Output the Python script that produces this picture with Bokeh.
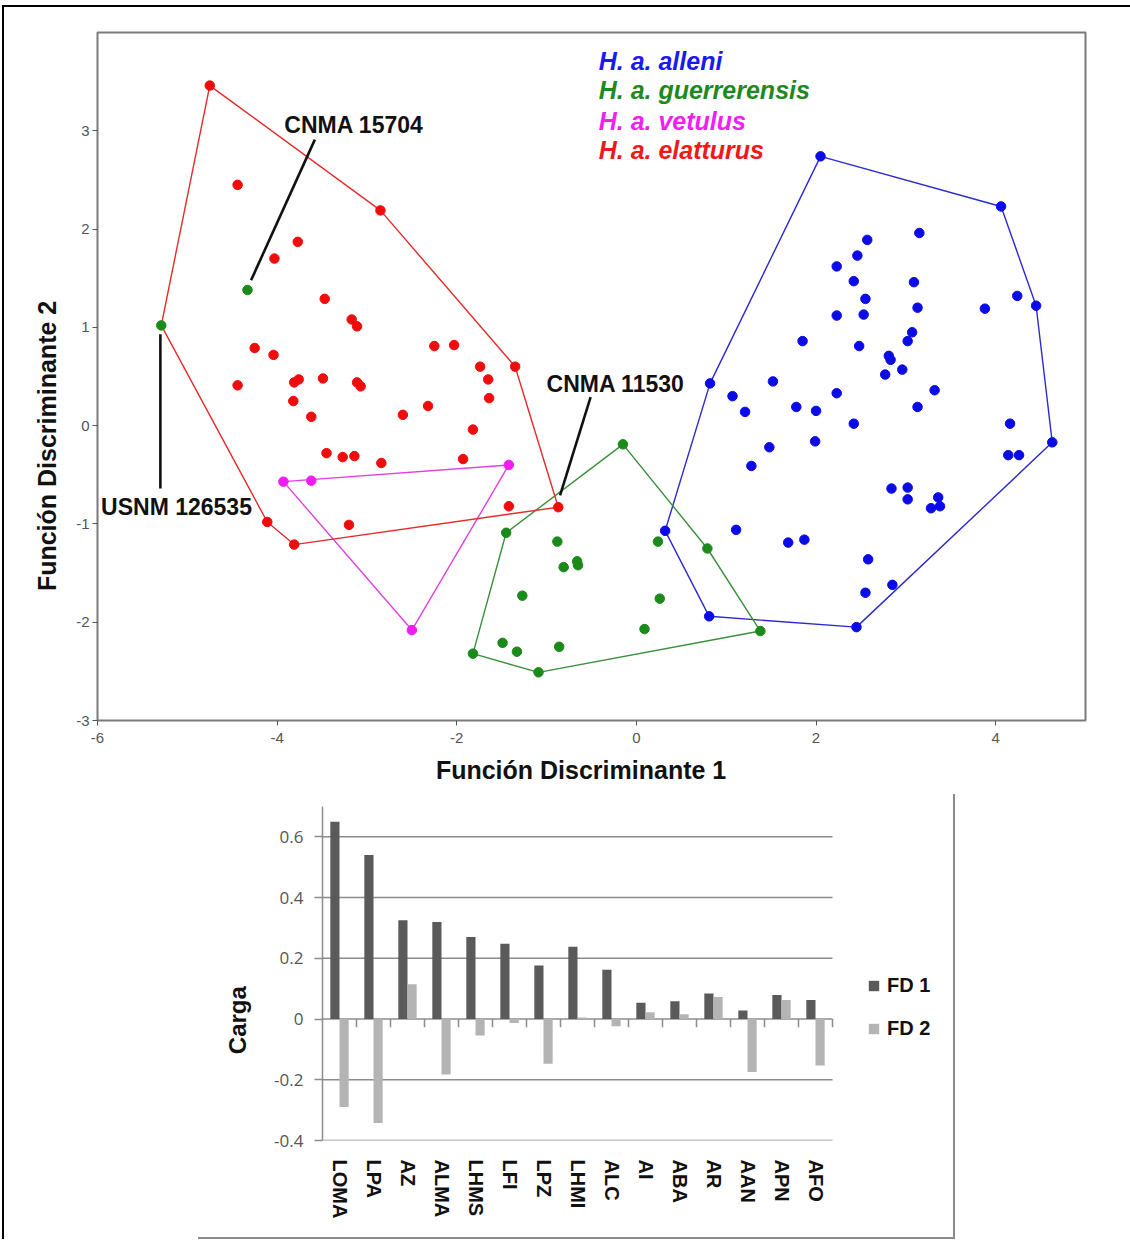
from bokeh.plotting import figure
from bokeh.models import (Range1d, FixedTicker, Label, Legend, LegendItem,
                          Spacer, ColumnDataSource)
from bokeh.layouts import column, row
from bokeh.embed import file_html
from bokeh.resources import INLINE

# ---------------- scatter data (discriminant scores) ----------------
alleni_x = [2.05, 4.06, 3.15, 2.57, 2.46, 2.23, 2.42, 3.09, 4.24, 4.45, 2.55, 3.13, 3.88,
            2.23, 2.53, 1.85, 2.48, 3.07, 3.02, 2.81, 2.83, 2.96, 2.77, 0.82, 1.52, 2.23,
            3.32, 1.07, 1.21, 1.78, 2.00, 3.13, 2.42, 4.16, 1.99, 1.48, 4.63, 4.14, 4.26,
            1.28, 2.84, 3.02, 3.02, 3.36, 3.28, 3.38, 0.32, 1.11, 1.69, 1.87, 2.58, 2.85,
            2.55, 0.81, 2.45]
alleni_y = [2.74, 2.23, 1.96, 1.89, 1.73, 1.62, 1.47, 1.46, 1.32, 1.22, 1.29, 1.20, 1.19,
            1.12, 1.13, 0.86, 0.81, 0.95, 0.86, 0.71, 0.67, 0.57, 0.52, 0.43, 0.45, 0.33,
            0.36, 0.30, 0.14, 0.19, 0.15, 0.19, 0.02, 0.02, -0.16, -0.22, -0.17, -0.30, -0.30,
            -0.41, -0.64, -0.63, -0.75, -0.73, -0.84, -0.82, -1.07, -1.06, -1.19, -1.16, -1.36,
            -1.62, -1.70, -1.94, -2.05]

guerrerensis_x = [-0.15, -1.45, -0.88, 0.24, 0.79, -0.81, -0.66, -0.65, -1.27, 0.26, 0.09,
                  1.38, -1.49, -1.33, -0.86, -1.82, -1.09]
guerrerensis_y = [-0.19, -1.09, -1.18, -1.18, -1.25, -1.44, -1.38, -1.42, -1.73, -1.76, -2.07,
                  -2.09, -2.21, -2.30, -2.25, -2.32, -2.51]

# guerrerensis specimens lying inside the elatturus polygon
specimen_names = ["CNMA 15704", "USNM 126535"]
specimen_x = [-4.33, -5.29]
specimen_y = [1.38, 1.02]

vetulus_x = [-3.93, -3.62, -1.42, -2.50]
vetulus_y = [-0.57, -0.56, -0.40, -2.08]

elatturus_x = [-4.75, -4.44, -2.85, -3.77, -4.03, -3.47, -3.17, -3.11, -4.25, -4.04, -2.25,
               -2.03, -1.74, -1.35, -4.44, -3.81, -3.76, -3.49, -3.11, -3.07, -1.65, -3.82,
               -1.64, -3.62, -2.60, -2.32, -1.82, -3.45, -3.27, -3.14, -2.84, -1.93, -1.42,
               -0.87, -4.11, -3.20, -3.81]
elatturus_y = [3.46, 2.45, 2.19, 1.87, 1.70, 1.29, 1.08, 1.01, 0.79, 0.72, 0.81, 0.82, 0.60,
               0.60, 0.41, 0.44, 0.47, 0.48, 0.44, 0.40, 0.47, 0.25, 0.28, 0.09, 0.11, 0.20,
               -0.04, -0.28, -0.32, -0.31, -0.38, -0.34, -0.82, -0.83, -0.98, -1.01, -1.21]

species_labels = ["H. a. alleni", "H. a. guerrerensis", "H. a. vetulus", "H. a. elatturus"]
x_ticks = [-6, -4, -2, 0, 2, 4]
y_ticks = [-3, -2, -1, 0, 1, 2, 3]

# ---------------- loadings data ----------------
variables = ["LOMA", "LPA", "AZ", "ALMA", "LHMS", "LFI", "LPZ", "LHMI", "ALC", "AI", "ABA",
             "AR", "AAN", "APN", "AFO"]
fd1 = [0.65, 0.54, 0.325, 0.32, 0.27, 0.248, 0.176, 0.238, 0.162, 0.054, 0.059, 0.084,
       0.028, 0.079, 0.063]
fd2 = [-0.29, -0.342, 0.115, -0.183, -0.054, -0.013, -0.147, 0.005, -0.024, 0.022, 0.016,
       0.073, -0.174, 0.063, -0.153]
load_ticks = [-0.4, -0.2, 0, 0.2, 0.4, 0.6]
load_tick_labels = ["-0.4", "-0.2", "0", "0.2", "0.4", "0.6"]

# ---------------- styles ----------------
C_BLUE, C_GREEN, C_MAG, C_RED = "#0b0be8", "#1a8a1a", "#f21cf2", "#f00c0c"
L_BLUE, L_GREEN, L_MAG, L_RED = "#2a2ad0", "#3a8f3a", "#e040e0", "#e52a2a"
TXT_BLUE, TXT_GREEN, TXT_MAG, TXT_RED = "#1a1af0", "#1e8a1e", "#f020f0", "#f01818"
FONT = "Liberation Sans"
NB = "\u00a0"
GRID = "#8c8c8c"


def convex_hull(xs, ys):
    pts = sorted(set(zip(xs, ys)))

    def cross(o, a, b):
        return (a[0] - o[0]) * (b[1] - o[1]) - (a[1] - o[1]) * (b[0] - o[0])

    lower, upper = [], []
    for p in pts:
        while len(lower) >= 2 and cross(lower[-2], lower[-1], p) <= 0:
            lower.pop()
        lower.append(p)
    for p in reversed(pts):
        while len(upper) >= 2 and cross(upper[-2], upper[-1], p) <= 0:
            upper.pop()
        upper.append(p)
    h = lower[:-1] + upper[:-1]
    h.append(h[0])
    return [q[0] for q in h], [q[1] for q in h]


# ================= scatter figure =================
p1 = figure(width=1126, height=787, x_range=Range1d(-6, 5), y_range=Range1d(-3, 4),
            output_backend="svg", toolbar_location=None,
            min_border_left=93, min_border_right=45, min_border_top=25, min_border_bottom=74)
p1.xgrid.visible = False
p1.ygrid.visible = False
p1.outline_line_color = "#7a7a7a"
p1.outline_line_width = 2

for ax, ticks in ((p1.xaxis, x_ticks), (p1.yaxis, y_ticks)):
    ax.ticker = FixedTicker(ticks=ticks)
    ax.major_label_overrides = {t: str(t) for t in ticks}
    ax.axis_line_color = None
    ax.major_tick_line_color = "#555555"
    ax.major_tick_out = 5
    ax.major_tick_in = 0
    ax.minor_tick_line_color = None
    ax.major_label_text_font = FONT
    ax.major_label_text_font_size = "15px"
    ax.major_label_text_color = "#555555"
    ax.axis_label_text_font = FONT
    ax.axis_label_text_font_style = "bold"
    ax.axis_label_text_font_size = "25px"
    ax.axis_label_text_color = "#111111"
p1.xaxis.major_label_standoff = 7
p1.yaxis.major_label_standoff = 3

p1.xaxis.axis_label = "Función Discriminante 1" + NB * 3
p1.xaxis.axis_label_standoff = 10
# trailing no-break spaces push the rotated title below the frame centre, as in the original
p1.yaxis.axis_label = "Función Discriminante 2" + NB * 20
p1.yaxis.axis_label_standoff = 12

# hulls
hx, hy = convex_hull(alleni_x, alleni_y)
p1.line(hx, hy, line_color=L_BLUE, line_width=1.4)
hx, hy = convex_hull(guerrerensis_x, guerrerensis_y)
p1.line(hx, hy, line_color=L_GREEN, line_width=1.4)
hx, hy = convex_hull(vetulus_x, vetulus_y)
p1.line(hx, hy, line_color=L_MAG, line_width=1.4)
hx, hy = convex_hull(elatturus_x + specimen_x, elatturus_y + specimen_y)
p1.line(hx, hy, line_color=L_RED, line_width=1.4)

# annotation leaders (label anchor positions)
leader_x0 = [-3.58, -5.30, -0.51]
leader_y0 = [2.91, 0.93, 0.29]
leader_x1 = [-4.29, -5.30, -0.85]
leader_y1 = [1.48, -0.64, -0.71]
p1.segment(leader_x0, leader_y0, leader_x1, leader_y1, line_color="#111111", line_width=2.6)

# points
p1.scatter(alleni_x, alleni_y, size=9.5, color=C_BLUE)
p1.scatter(guerrerensis_x, guerrerensis_y, size=9.5, color=C_GREEN)
p1.scatter(specimen_x, specimen_y, size=9.5, color=C_GREEN)
p1.scatter(vetulus_x, vetulus_y, size=9.5, color=C_MAG)
p1.scatter(elatturus_x, elatturus_y, size=9.5, color=C_RED)

for txt, lx, ly in (("CNMA 15704", -3.92, 3.06), ("USNM 126535", -5.96, -0.83),
                    ("CNMA 11530", -1.00, 0.42)):
    p1.add_layout(Label(x=lx, y=ly, text=txt, text_font=FONT, text_font_style="bold",
                        text_font_size="23px", text_color="#111111", text_baseline="middle",
                        text_align="left"))

for txt, col, ly in zip(species_labels, [TXT_BLUE, TXT_GREEN, TXT_MAG, TXT_RED],
                        [3.71, 3.41, 3.10, 2.80]):
    p1.add_layout(Label(x=-0.42, y=ly, text=txt, text_font=FONT,
                        text_font_style="bold italic", text_font_size="25px",
                        text_color=col, text_baseline="middle", text_align="left"))

# ================= loadings bar chart =================
n = len(variables)
centers = [i + 0.5 for i in range(n)]
src = ColumnDataSource(dict(var=variables, fd1=fd1, fd2=fd2,
                            x1=[c - 0.135 for c in centers], x2=[c + 0.135 for c in centers]))
# frame extends to the right edge so that the legend lies inside it; one category = 34 px
p2 = figure(width=755, height=443, x_range=Range1d(0, 631 / 34),
            y_range=Range1d(-0.4, 0.7), output_backend="svg", toolbar_location=None,
            min_border_left=124, min_border_right=0, min_border_top=12, min_border_bottom=97)
p2.outline_line_color = None
p2.xgrid.visible = False
p2.ygrid.visible = False

# horizontal grid lines across the category area only
p2.segment(x0=[0] * len(load_ticks), y0=load_ticks, x1=[n] * len(load_ticks), y1=load_ticks,
           line_color=GRID, line_width=1.5)
# category boundary ticks on the zero line
bounds = list(range(1, n + 1))
p2.segment(x0=bounds, y0=[0] * n, x1=bounds, y1=[-0.027] * n, line_color=GRID, line_width=1.5)

p2.yaxis.ticker = FixedTicker(ticks=load_ticks)
p2.yaxis.major_label_overrides = dict(zip(load_ticks, load_tick_labels))
p2.yaxis.axis_line_color = GRID
p2.yaxis.axis_line_width = 1.5
p2.yaxis.major_tick_line_color = GRID
p2.yaxis.major_tick_line_width = 1.5
p2.yaxis.major_tick_out = 8
p2.yaxis.major_tick_in = 0
p2.yaxis.minor_tick_line_color = None
p2.yaxis.major_label_text_font = "Open Sans"
p2.yaxis.major_label_text_font_size = "17px"
p2.yaxis.major_label_text_color = "#555555"
p2.yaxis.major_label_standoff = 11
p2.yaxis.axis_label = "Carga" + NB * 14
p2.yaxis.axis_label_text_font = FONT
p2.yaxis.axis_label_text_font_style = "bold"
p2.yaxis.axis_label_text_font_size = "24px"
p2.yaxis.axis_label_text_color = "#111111"
p2.yaxis.axis_label_standoff = 20

p2.xaxis.ticker = FixedTicker(ticks=centers)
p2.xaxis.major_label_overrides = dict(zip(centers, variables))
p2.xaxis.axis_line_color = None
p2.xaxis.major_tick_line_color = None
p2.xaxis.minor_tick_line_color = None
p2.xaxis.major_label_orientation = "vertical"
p2.xaxis.major_label_text_font = FONT
p2.xaxis.major_label_text_font_style = "bold"
p2.xaxis.major_label_text_font_size = "20px"
p2.xaxis.major_label_text_color = "#111111"
p2.xaxis.major_label_standoff = 13

r1 = p2.vbar(x="x1", top="fd1", width=0.27, source=src, fill_color="#5a5a5a", line_color=None)
r2 = p2.vbar(x="x2", top="fd2", width=0.27, source=src, fill_color="#b4b4b4", line_color=None)

legend = Legend(items=[LegendItem(label="FD 1", renderers=[r1]),
                       LegendItem(label="FD 2", renderers=[r2])],
                location=(545, 100), padding=0, margin=0, border_line_color=None,
                background_fill_alpha=0, glyph_width=13, glyph_height=13, spacing=20,
                label_standoff=7, label_text_font=FONT, label_text_font_style="bold",
                label_text_font_size="20px", label_text_color="#111111", label_height=22)
p2.add_layout(legend)

box2 = column(p2, styles={"border-right": "2px solid #8a8a8a",
                          "border-bottom": "2px solid #8a8a8a"})
layout = column(p1, row(Spacer(width=194, height=10), box2),
                styles={"border-left": "2px solid #000", "border-top": "2px solid #000",
                        "margin-left": "2px", "margin-top": "5px"})

open("out.html", "w").write(file_html(layout, INLINE))
